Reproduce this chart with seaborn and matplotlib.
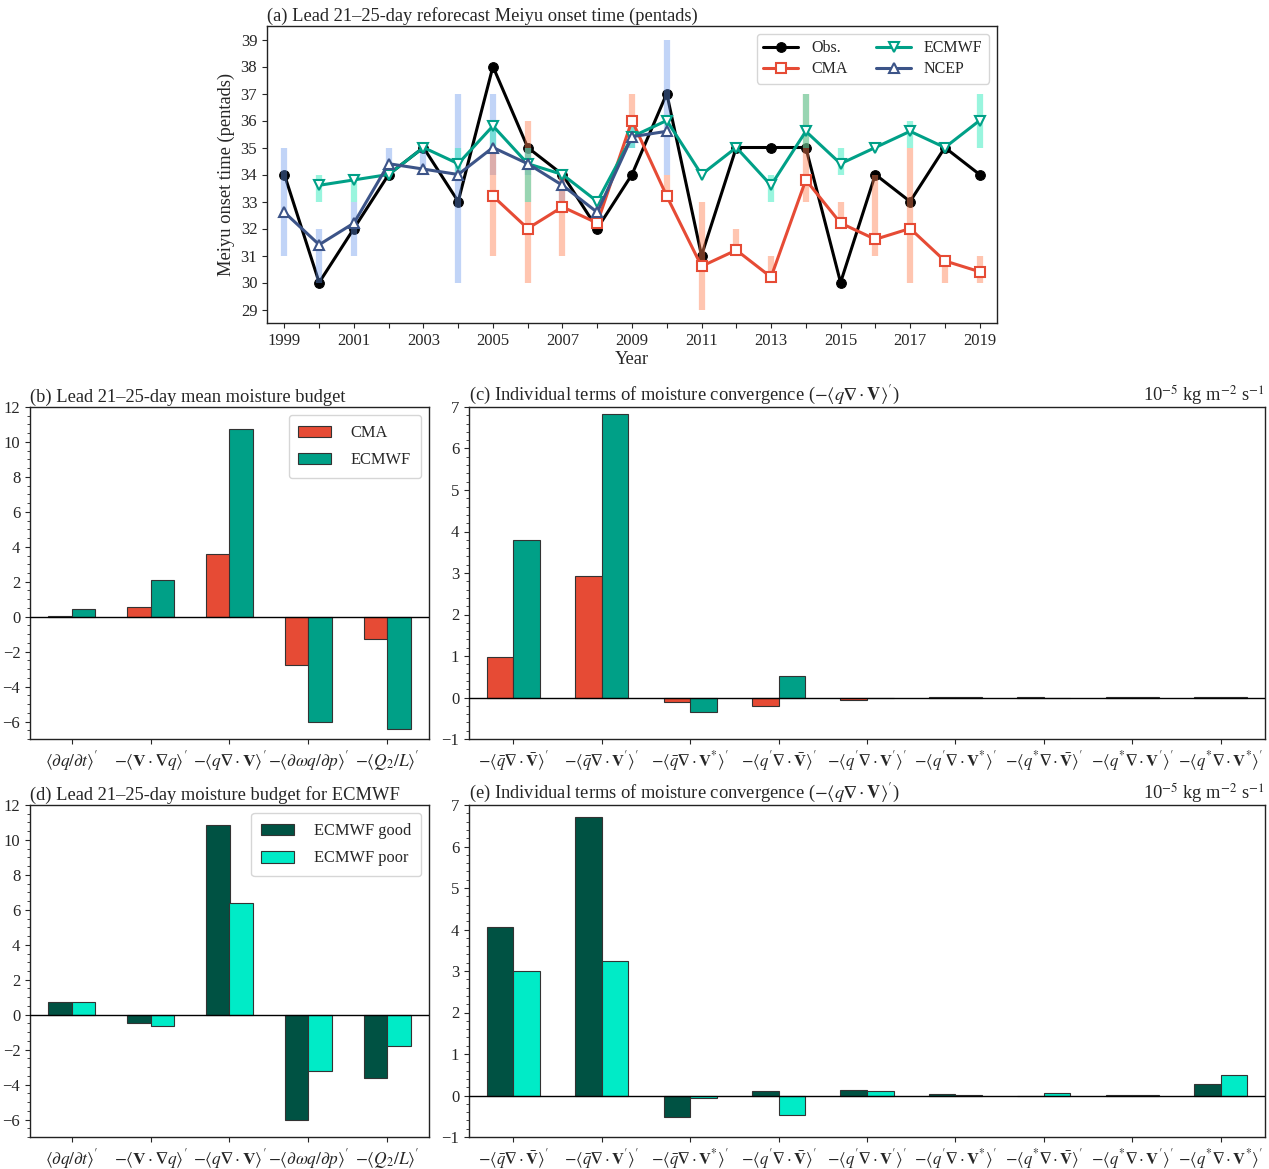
import numpy as np
import pandas as pd
import seaborn as sns
import matplotlib
matplotlib.use('Agg')
import matplotlib.pyplot as plt
from matplotlib.ticker import AutoMinorLocator

nan = np.nan

# ---- panel (a): onset time (pentads) ----
years = list(range(1999, 2020))
obs = [34, 30, 32, 34, 35, 33, 38, 35, 34, 32, 34, 37, 31, 35, 35, 35, 30, 34, 33, 35, 34]
cma = [nan, nan, nan, nan, nan, nan, 33.2, 32.0, 32.8, 32.2, 36.0, 33.2, 30.6, 31.2, 30.2,
       33.8, 32.2, 31.6, 32.0, 30.8, 30.4]
ecmwf = [nan, 33.6, 33.8, 34.0, 35.0, 34.4, 35.8, 34.4, 34.0, 33.0, 35.4, 36.0, 34.0, 35.0,
         33.6, 35.6, 34.4, 35.0, 35.6, 35.0, 36.0]
ncep = [32.6, 31.4, 32.2, 34.4, 34.2, 34.0, 35.0, 34.4, 33.6, 32.6, 35.4, 35.6,
        nan, nan, nan, nan, nan, nan, nan, nan, nan]

# spread ranges (low, high)
cma_lo = [nan]*6 + [31, 30, 31, nan, 36, 33, 29, 31, 30, 33, 32, 31, 30, 30, 30]
cma_hi = [nan]*6 + [35, 36, 34, nan, 37, 34, 33, 32, 31, 37, 33, 34, 35, 31, 31]
ecmwf_lo = [nan, 33, 33, nan, nan, 34, 35, 33, nan, nan, 35, nan, nan, nan, 33, 35, 34, nan, 35, nan, 35]
ecmwf_hi = [nan, 34, 34, nan, nan, 35, 36, 35, nan, nan, 36, nan, nan, nan, 34, 37, 35, nan, 36, nan, 37]
ncep_lo = [31, 30, 31, 34, 34, 30, 34, 34, 33, nan, 35, 34] + [nan]*9
ncep_hi = [35, 32, 33, 35, 35, 37, 37, 35, 34, nan, 36, 39] + [nan]*9

# ---- panels (b)/(d): moisture budget ----
NB = r'\boldsymbol{\nabla}'
budget_terms = [r'$\langle \partial q/\partial t\rangle^{\prime}$',
                r'$-\langle \mathbf{V}\cdot' + NB + r' q\rangle^{\prime}$',
                r'$-\langle q' + NB + r'\cdot\mathbf{V}\rangle^{\prime}$',
                r'$-\langle \partial \omega q/\partial p\rangle^{\prime}$',
                r'$-\langle Q_2/L\rangle^{\prime}$']
b_cma = [0.05, 0.55, 3.6, -2.75, -1.3]
b_ecmwf = [0.45, 2.1, 10.75, -6.0, -6.45]
d_good = [0.75, -0.45, 10.85, -6.05, -3.6]
d_poor = [0.75, -0.63, 6.4, -3.2, -1.78]

# ---- panels (c)/(e): individual convergence terms ----
conv_terms = [r'$-\langle\bar{q}' + NB + r'\cdot\bar{\mathbf{V}}\rangle^{\prime}$',
              r'$-\langle\bar{q}' + NB + r'\cdot\mathbf{V}^{\prime}\rangle^{\prime}$',
              r'$-\langle\bar{q}' + NB + r'\cdot\mathbf{V}^{*}\rangle^{\prime}$',
              r'$-\langle q^{\prime}' + NB + r'\cdot\bar{\mathbf{V}}\rangle^{\prime}$',
              r'$-\langle q^{\prime}' + NB + r'\cdot\mathbf{V}^{\prime}\rangle^{\prime}$',
              r'$-\langle q^{\prime}' + NB + r'\cdot\mathbf{V}^{*}\rangle^{\prime}$',
              r'$-\langle q^{*}' + NB + r'\cdot\bar{\mathbf{V}}\rangle^{\prime}$',
              r'$-\langle q^{*}' + NB + r'\cdot\mathbf{V}^{\prime}\rangle^{\prime}$',
              r'$-\langle q^{*}' + NB + r'\cdot\mathbf{V}^{*}\rangle^{\prime}$']
c_cma = [0.97, 2.93, -0.10, -0.21, -0.07, 0.005, 0.02, 0.01, 0.02]
c_ecmwf = [3.80, 6.82, -0.36, 0.51, 0.0, 0.01, -0.02, 0.01, 0.02]
e_good = [4.07, 6.72, -0.51, 0.11, 0.14, 0.03, -0.01, 0.01, 0.28]
e_poor = [2.99, 3.25, -0.07, -0.46, 0.12, 0.02, 0.06, 0.01, 0.49]

C_OBS, C_CMA, C_EC, C_NCEP = 'black', '#E64B35', '#00A087', '#3C5488'
C_GOOD, C_POOR = '#005243', '#00EBC7'

sns.set_style('ticks')
plt.rcParams['font.family'] = ['Liberation Serif', 'DejaVu Serif']
plt.rcParams['mathtext.fontset'] = 'stix'
plt.rcParams['font.size'] = 12
plt.rcParams['xtick.labelsize'] = 12
plt.rcParams['ytick.labelsize'] = 12
plt.rcParams['axes.linewidth'] = 1.0
plt.rcParams['axes.edgecolor'] = '#222222'

TFS = 13.3

fig = plt.figure(figsize=(12.69, 11.69), dpi=100)
W, H = 1269, 1169


def box(l, t, r, b):
    return [l / W, 1 - b / H, (r - l) / W, (b - t) / H]


ax_a = fig.add_axes(box(267, 26, 997, 323))
ax_b = fig.add_axes(box(30, 407, 429, 739))
ax_c = fig.add_axes(box(469, 407, 1265, 739))
ax_d = fig.add_axes(box(30, 805, 429, 1137))
ax_e = fig.add_axes(box(469, 805, 1265, 1137))

# ---- (a) ----
yr = np.array(years)
sns.lineplot(x=yr, y=obs, ax=ax_a, color=C_OBS, marker='o', markersize=7,
             markeredgecolor=C_OBS, linewidth=2.2, label='Obs.', zorder=2)
ax_a.vlines(yr, ncep_lo, ncep_hi, colors='cornflowerblue', linewidth=4.5, alpha=0.4, zorder=3)
ax_a.vlines(yr, cma_lo, cma_hi, colors='coral', linewidth=4.5, alpha=0.45, zorder=3)
ax_a.vlines(yr, ecmwf_lo, ecmwf_hi, colors='#1DE9B6', linewidth=4.5, alpha=0.45, zorder=3)
for vals, col, mk, lab in [(cma, C_CMA, 's', 'CMA'), (ecmwf, C_EC, 'v', 'ECMWF'),
                           (ncep, C_NCEP, '^', 'NCEP')]:
    sns.lineplot(x=yr, y=vals, ax=ax_a, color=col, marker=mk, markersize=7.5,
                 markerfacecolor='white', markeredgecolor=col, markeredgewidth=1.5,
                 linewidth=2.2, label=lab, zorder=4)
h, l = ax_a.get_legend_handles_labels()
ax_a.legend(h, l, ncol=2, loc='upper right', fontsize=11.5, columnspacing=1.8,
            handlelength=2.2, borderpad=0.4, labelspacing=0.3)
ax_a.set_xlim(1998.5, 2019.5)
ax_a.set_ylim(28.5, 39.5)
ax_a.set_yticks(range(29, 40))
ax_a.set_xticks(years)
ax_a.set_xticklabels([str(y) if y % 2 == 1 else '' for y in years])
ax_a.set_xlabel('Year', fontsize=TFS, labelpad=2)
ax_a.set_ylabel('Meiyu onset time (pentads)', fontsize=TFS)
ax_a.set_title('(a) Lead 21\u201325-day reforecast Meiyu onset time (pentads)',
               loc='left', fontsize=TFS, pad=4)


def bar_panel(ax, terms, v1, v2, n1, n2, c1, c2, ylim, legend, xfs):
    df = pd.DataFrame({'term': terms * 2, 'value': list(v1) + list(v2),
                       'model': [n1] * len(terms) + [n2] * len(terms)})
    sns.barplot(data=df, x='term', y='value', hue='model', order=terms,
                hue_order=[n1, n2], palette=[c1, c2], saturation=1, width=0.6, gap=0,
                edgecolor='#333333', linewidth=0.8, errorbar=None,
                legend=legend, ax=ax)
    ax.axhline(0, color='black', linewidth=1.0, zorder=5)
    ax.set_ylim(*ylim)
    ax.set_xlabel('')
    ax.set_ylabel('')
    ax.yaxis.set_minor_locator(AutoMinorLocator())
    ax.tick_params(axis='x', labelsize=xfs)
    if legend:
        ax.legend(loc='upper right', fontsize=11.8, handlelength=2.0, borderpad=0.6,
                  labelspacing=0.7, handletextpad=1.2)


bar_panel(ax_b, budget_terms, b_cma, b_ecmwf, 'CMA', 'ECMWF', C_CMA, C_EC, (-7, 12), True, 12.5)
ax_b.set_xlim(-0.53, 4.53)
ax_b.set_yticks(range(-6, 13, 2))
ax_b.set_title('(b) Lead 21\u201325-day mean moisture budget', loc='left', fontsize=TFS, pad=4)

bar_panel(ax_d, budget_terms, d_good, d_poor, 'ECMWF good', 'ECMWF poor', C_GOOD, C_POOR,
          (-7, 12), True, 12.5)
ax_d.set_xlim(-0.53, 4.53)
ax_d.set_yticks(range(-6, 13, 2))
ax_d.set_title('(d) Lead 21\u201325-day moisture budget for ECMWF', loc='left', fontsize=TFS, pad=4)

unit = r'10$^{-5}$ kg m$^{-2}$ s$^{-1}$'
conv_title = (r'Individual terms of moisture convergence ($-\langle q' + NB +
              r'\cdot\mathbf{V}\rangle^{\prime}$)')

bar_panel(ax_c, conv_terms, c_cma, c_ecmwf, 'CMA', 'ECMWF', C_CMA, C_EC, (-1, 7), False, 12)
ax_c.set_xlim(-0.5, 8.5)
ax_c.set_title('(c) ' + conv_title, loc='left', fontsize=TFS, pad=4)
ax_c.set_title(unit, loc='right', fontsize=TFS, pad=4)

bar_panel(ax_e, conv_terms, e_good, e_poor, 'ECMWF good', 'ECMWF poor', C_GOOD, C_POOR,
          (-1, 7), False, 12)
ax_e.set_xlim(-0.5, 8.5)
ax_e.set_title('(e) ' + conv_title, loc='left', fontsize=TFS, pad=4)
ax_e.set_title(unit, loc='right', fontsize=TFS, pad=4)

fig.savefig('out.png', dpi=100)
